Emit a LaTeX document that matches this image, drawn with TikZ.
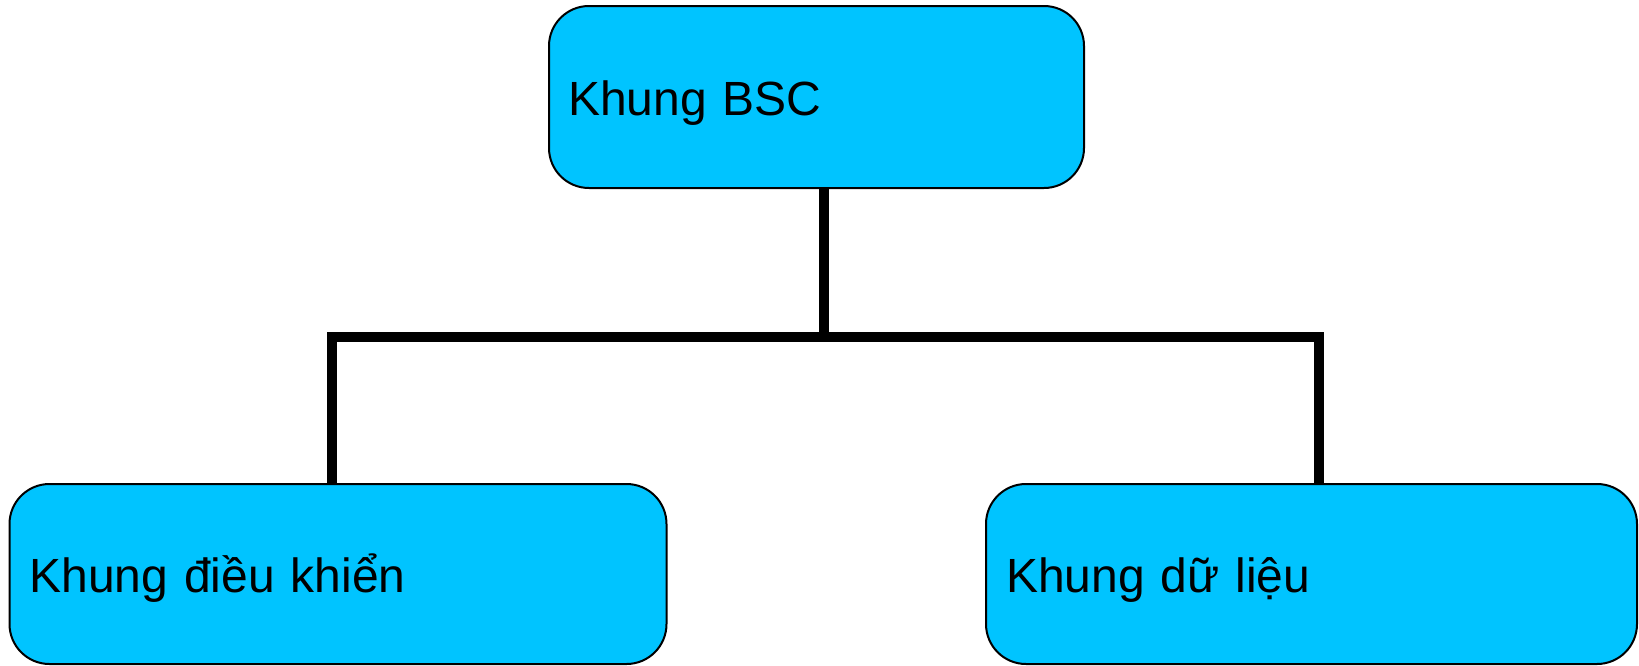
\documentclass[tikz,border=0pt]{standalone}
\usepackage{fontspec}
\setmainfont{Liberation Sans}
\definecolor{boxfill}{RGB}{0,196,255}
\begin{document}
\begin{tikzpicture}[x=1pt,y=-1pt,
  box/.style={draw=black, line width=2pt, fill=boxfill, rounded corners=40pt,
    inner xsep=20pt, inner ysep=0pt, align=left,
    font=\fontsize{48}{58}\selectfont, text height=40pt, text depth=4pt},
  conn/.style={draw=black, line width=9.5pt, line join=miter}]
\useasboundingbox (0,0) rectangle (1639,665);
% boxes
\node[box, minimum width=535pt, minimum height=182pt, text width=497pt, inner xsep=19pt]
  (top) at (816.5,97) {Khung BSC};
\node[box, minimum width=657pt, minimum height=180pt, text width=617pt]
  (left) at (338,574) {Khung điều khiển};
\node[box, minimum width=651pt, minimum height=180pt, text width=611pt]
  (right) at (1311.5,574) {Khung dữ liệu};
% tree connectors
\coordinate (j) at (824,337);
\coordinate (jl) at (332,337);
\coordinate (jr) at (1319,337);
\draw[conn] (j |- top.south) -- (j);
\draw[conn] (jl |- left.north) -- (jl) -- (jr) -- (jr |- right.north);
\end{tikzpicture}
\end{document}
